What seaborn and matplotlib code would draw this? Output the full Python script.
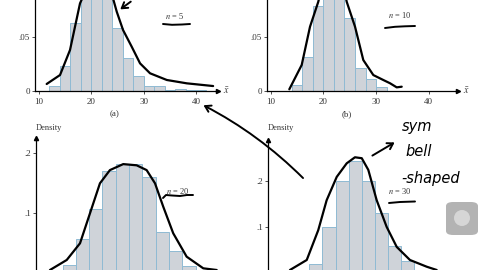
import numpy as np
import pandas as pd
import matplotlib
matplotlib.use("Agg")
import matplotlib.pyplot as plt
from matplotlib.patches import FancyBboxPatch, Ellipse
import seaborn as sns

# ---------------- data ----------------
edges_a = [12, 14, 16, 18, 20, 22, 24, 26, 28, 30, 32, 34, 36, 38, 40, 42]
dens_a = [.0044, .023, .063, .095, .10, .095, .058, .031, .014, .005, .005, .001, .0015, .0005, .001]
edges_b = [14, 16, 18, 20, 22, 24, 26, 28, 30, 32]
dens_b = [.005, .031, .078, .13, .15, .067, .021, .011, .003]
edges_c = [17, 18, 19, 20, 21, 22, 23, 24, 25, 26, 27]
dens_c = [.014, .057, .108, .17, .183, .183, .161, .069, .038, .012]
edges_d = [18, 19, 20, 21, 22, 23, 24, 25, 26]
dens_d = [.021, .10, .20, .243, .20, .131, .06, .028]

# hand-drawn curves
curve_a_x = [11.47, 14.02, 15.93, 16.88, 17.84, 19.4, 20.8, 22.6, 23.9, 24.86, 26.06, 27.72, 29.31, 31.22, 34.42, 38.24, 43.27]
curve_a_y = [.0065, .0148, .038, .0595, .0812, .098, .106, .102, .09, .0734, .0565, .041, .0256, .0164, .0102, .0071, .0046]
curve_b_x = [13.53, 15.88, 17.46, 19.03, 20.4, 21.8, 23.2, 24.42, 26.0, 27.57, 29.47, 31.37, 32.64, 33.91, 34.86]
curve_b_y = [.0013, .0238, .0593, .0824, .11, .125, .11, .0824, .0593, .0284, .0145, .0099, .0069, .0031, .0037]
curve_c_x = [16.05, 17.31, 18.31, 19.06, 19.81, 20.56, 21.56, 22.57, 23.32, 23.95, 24.57, 25.32, 26.33, 27.58, 28.59]
curve_c_y = [.0055, .0222, .05, .10, .15, .172, .182, .18, .172, .15, .111, .0667, .0277, .0083, .0055]
curve_d_x = [16.52, 17.80, 18.68, 19.32, 20.09, 20.85, 21.48, 22.0, 22.5, 23.14, 23.90, 24.67, 25.68, 26.96, 27.72]
curve_d_y = [.0086, .030, .094, .158, .208, .237, .25, .248, .223, .158, .101, .058, .030, .0156, .0086]

xticks_top = [10, 20, 30, 40]
xticklabels_top = ["10", "20", "30", "40"]
yticks_top = [0, .05]
yticklabels_top = ["0", ".05"]
yticks_bot = [.1, .2]
yticklabels_bot = [".1", ".2"]
n_labels = ["$n$ = 5", "$n$ = 10", "$n$ = 20", "$n$ = 30"]
panel_labels = ["(a)", "(b)"]

# ---------------- style ----------------
sns.set_theme(style="white")
plt.rcParams["font.family"] = ["Liberation Serif", "DejaVu Serif"]
plt.rcParams["mathtext.fontset"] = "stix"

W, H = 480, 270
fig = plt.figure(figsize=(4.8, 2.7), dpi=100)
fig.patch.set_facecolor("white")

def fx(x):
    return x / W

def fy(y):
    return 1 - y / H

def px_axes(l, r, b, t):
    return fig.add_axes([fx(l), fy(b), (r - l) / W, (b - t) / H])

FILL = "#cfd3d9"
EDGE = "#8fbad3"
TXT = "#333333"

def draw_panel(ax, edges, dens, cx, cy, xlim, ylim, yticks, yticklabels, xticks, xticklabels, arrow_y):
    centers = [(edges[i] + edges[i + 1]) / 2 for i in range(len(dens))]
    df = pd.DataFrame({"x": centers, "w": dens})
    sns.histplot(data=df, x="x", weights="w", bins=edges, ax=ax, stat="count",
                 color=FILL, edgecolor=EDGE, linewidth=0.7, alpha=1)
    sns.lineplot(x=cx, y=cy, ax=ax, color="black", linewidth=1.6)
    ax.set_xlim(*xlim)
    ax.set_ylim(*ylim)
    ax.set_xlabel("")
    ax.set_ylabel("")
    ax.set_facecolor("none")
    for s in ["top", "right"]:
        ax.spines[s].set_visible(False)
    for s in ["left", "bottom"]:
        ax.spines[s].set_color("black")
        ax.spines[s].set_linewidth(0.9)
    ax.set_yticks(yticks, yticklabels)
    ax.set_xticks(xticks, xticklabels)
    ax.tick_params(axis="both", direction="out", length=2, width=0.6, colors=TXT,
                   labelsize=6.5, pad=1.5, left=True, bottom=True)
    ax.tick_params(axis="x", pad=3)
    ax.plot(1, 0, ">", color="black", ms=3, transform=ax.transAxes, clip_on=False)
    if arrow_y:
        ax.plot(0, 1, "^", color="black", ms=3, transform=ax.transAxes, clip_on=False)

# panel (a)
ax_a = px_axes(35, 218, 91, 0)
draw_panel(ax_a, edges_a, dens_a, curve_a_x, curve_a_y, (9.24, 44.2), (0, .0843),
           yticks_top, yticklabels_top, xticks_top, xticklabels_top, False)
# panel (b)
ax_b = px_axes(266.7, 458, 90.7, 0)
draw_panel(ax_b, edges_b, dens_b, curve_b_x, curve_b_y, (9.24, 45.54), (0, .084),
           yticks_top, yticklabels_top, xticks_top, xticklabels_top, False)
# panel (c)
ax_c = px_axes(36, 230, 273.3, 138)
draw_panel(ax_c, edges_c, dens_c, curve_c_x, curve_c_y, (15, 29.59), (0, .2255),
           yticks_bot, yticklabels_bot, [], [], True)
# panel (d)
ax_d = px_axes(267.7, 460, 274, 140)
draw_panel(ax_d, edges_d, dens_d, curve_d_x, curve_d_y, (14.82, 29.5), (0, .287),
           yticks_bot, yticklabels_bot, [], [], True)

# x-bar labels
for ax in (ax_a, ax_b):
    ax.text(1.025, 0, r"$\bar{x}$", transform=ax.transAxes, ha="left", va="center",
            fontsize=7, color=TXT)

# panel letters
fig.text(fx(115), fy(114), panel_labels[0], ha="center", va="center", fontsize=6.5, color=TXT)
fig.text(fx(347), fy(114), panel_labels[1], ha="center", va="center", fontsize=6.5, color=TXT)

# Density labels
fig.text(fx(48.5), fy(127.5), "Density", ha="center", va="center", fontsize=6, color=TXT)
fig.text(fx(280.5), fy(128), "Density", ha="center", va="center", fontsize=6, color=TXT)

# n labels
n_pos = [(174, 16), (400, 15), (178, 190.5), (400, 190.5)]
for lab, (x, y) in zip(n_labels, n_pos):
    fig.text(fx(x), fy(y), lab, ha="center", va="center", fontsize=6, color=TXT)

# hand-drawn underlines
underline_1_x = [163, 172, 182, 190]
underline_1_y = [24, 24.8, 24.5, 24]
underline_2_x = [385, 395, 405, 415]
underline_2_y = [28, 26.8, 26.3, 26]
underline_3_x = [163, 166, 172, 180, 187, 193]
underline_3_y = [198, 195, 195.5, 196, 195, 195]
underline_4_x = [389, 400, 415]
underline_4_y = [203, 202, 201.5]
for ux, uy in [(underline_1_x, underline_1_y), (underline_2_x, underline_2_y),
               (underline_3_x, underline_3_y), (underline_4_x, underline_4_y)]:
    fig.add_artist(plt.Line2D([fx(v) for v in ux], [fy(v) for v in uy], color="black", lw=1.4))

# hand-drawn arrows
arrows = [((133, 0), (118, 11), 0.0), ((305, 180), (201, 104), 0.08), ((370, 157), (397, 141), 0.0)]
for (x0, y0), (x1, y1), rad in arrows:
    fig.add_artist(matplotlib.patches.FancyArrowPatch(
        (fx(x0), fy(y0)), (fx(x1), fy(y1)), transform=fig.transFigure,
        arrowstyle="->,head_length=4,head_width=2.5", color="black", lw=1.4,
        connectionstyle=f"arc3,rad={rad}"))

# handwritten note
for txt, (x, y) in zip(["sym", "bell", "-shaped"], [(402, 126), (405, 151), (401, 178)]):
    fig.text(fx(x), fy(y), txt, ha="left", va="center", fontsize=10.5,
             family=["DejaVu Sans"], style="italic", color="black")

# gray overlay button
btn = FancyBboxPatch((fx(446), fy(235)), 32 / W, 33 / H, boxstyle="round,pad=0,rounding_size=0.015",
                     transform=fig.transFigure, facecolor="#b3b3b3", edgecolor="none")
fig.patches.append(btn)
fig.patches.append(Ellipse((fx(462), fy(218)), 16 / W, 16 / H, transform=fig.transFigure,
                           facecolor="#d6d6d6", edgecolor="none"))

fig.savefig("out.png", dpi=100)
